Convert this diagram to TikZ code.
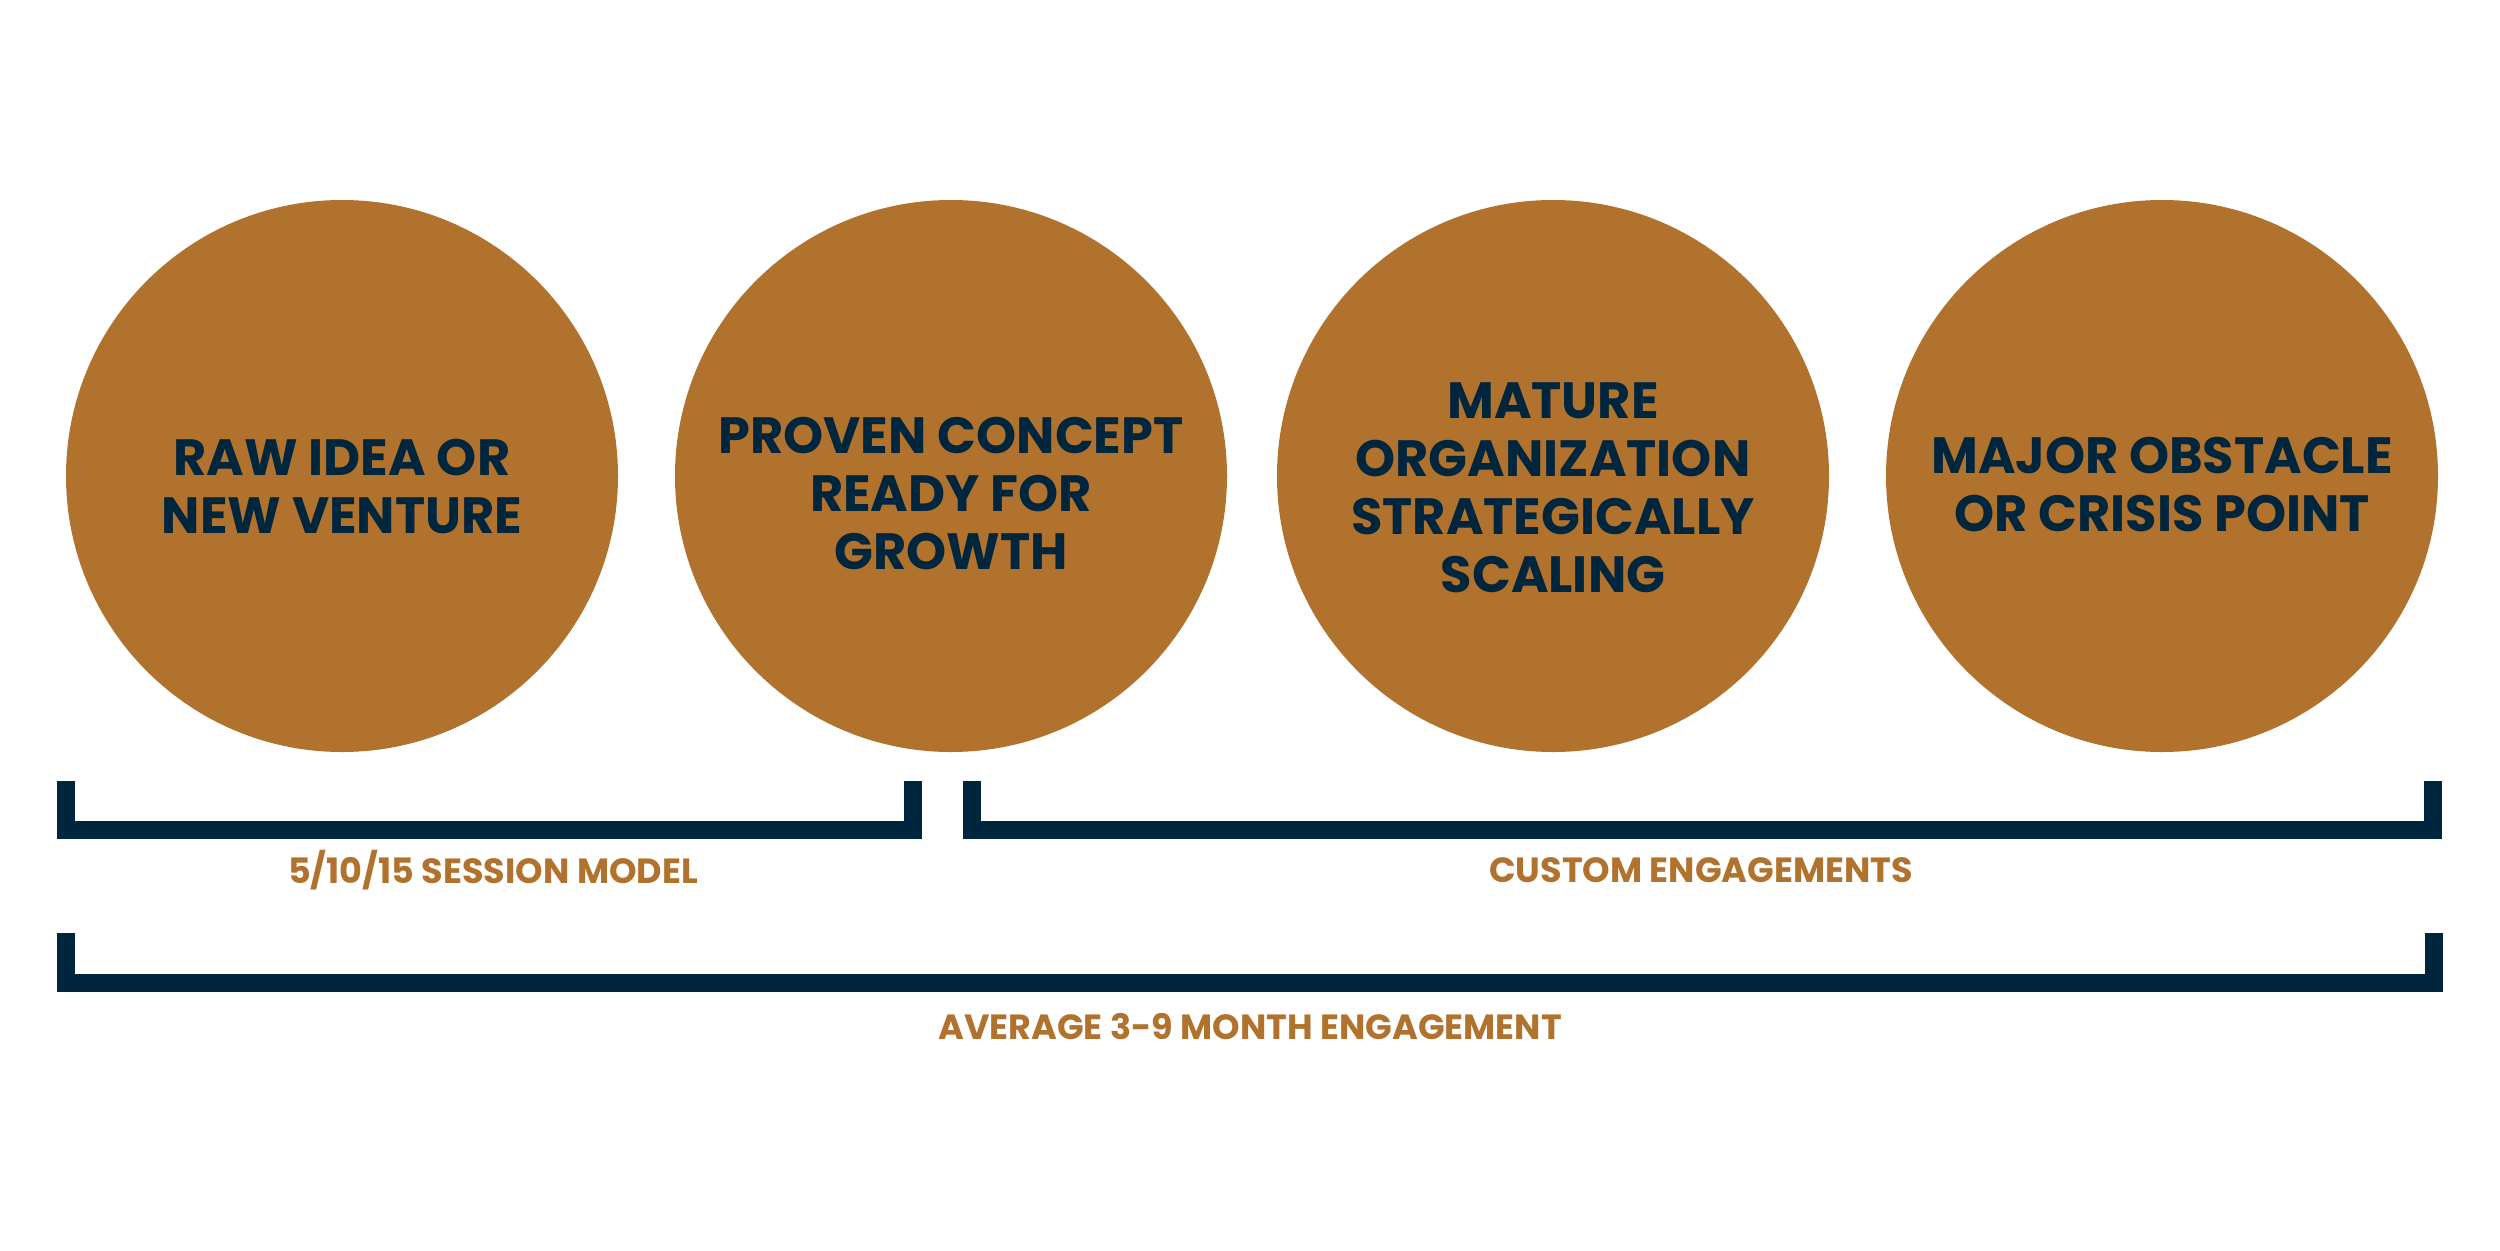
\documentclass[tikz,border=0pt]{standalone}
\usepackage{fontspec}
\setmainfont{Poppins}[UprightFont=* Bold]
\definecolor{ochre}{RGB}{176,114,44}
\definecolor{navy}{RGB}{0,38,62}
\begin{document}
\begin{tikzpicture}[x=1pt,y=-1pt,
  stage/.style={circle,fill=ochre,draw=none,minimum size=552pt,inner sep=0pt},
  stagetext/.style={align=center,text=navy,inner sep=0pt,font=\fontsize{51}{58}\selectfont},
  span/.style={draw=navy,line width=18pt,line cap=butt,line join=miter},
  spanlabel/.style={text=ochre,inner sep=0pt,font=\fontsize{35}{40}\selectfont}]
\useasboundingbox (0,0) rectangle (2500,1250);
\fill[white] (0,0) rectangle (2500,1250);
% circles
\node[stage] (c1) at (342,476) {};
\node[stage] (c2) at (951,476) {};
\node[stage] (c3) at (1553,476) {};
\node[stage] (c4) at (2162,476) {};
\node[stagetext] (t1) at (342,487) {RAW IDEA OR\\NEW VENTURE};
\node[stagetext] (t2) at (951,494) {PROVEN CONCEPT\\READY FOR\\GROWTH};
\node[stagetext] (t3) at (1553,488) {MATURE\\ORGANIZATION\\STRATEGICALLY\\SCALING};
\node[stagetext] (t4) at (2162,485) {MAJOR OBSTACLE\\OR CRISIS POINT};
% brackets
\coordinate (b1a) at (66,781);
\coordinate (b1b) at (912.5,781);
\coordinate (b2a) at (971.5,781);
\coordinate (b2b) at (2433,781);
\coordinate (b3a) at (66,933);
\coordinate (b3b) at (2434,933);
\draw[span] (b1a) -- ++(0,49) -| (b1b);
\draw[span] (b2a) -- ++(0,49) -| (b2b);
\draw[span] (b3a) -- ++(0,50) -| (b3b);
\node[spanlabel] (l1) at (493,870) {5/10/15 SESSION MODEL};
\node[spanlabel] (l2) at (1701,870) {CUSTOM ENGAGEMENTS};
\node[spanlabel] (l3) at (1250,1027) {AVERAGE 3-9 MONTH ENGAGEMENT};
\end{tikzpicture}
\end{document}
